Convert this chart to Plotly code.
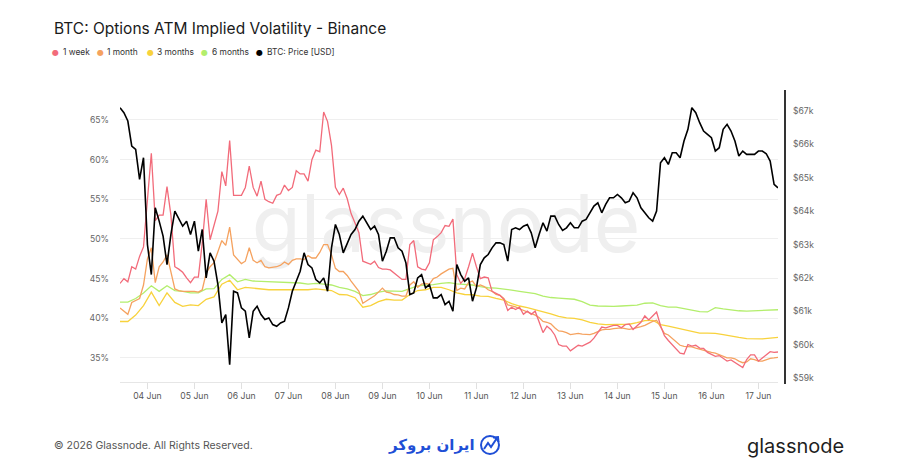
import pandas as pd
import plotly.graph_objects as go

# ---------------- data ----------------
start = "2024-06-03 10:00"
times_2h = pd.date_range(start, periods=169, freq="2h")
times_4h = pd.date_range(start, periods=85, freq="4h")

btc_price_k = [
    67.1, 66.95, 66.7, 65.95, 65.85, 64.95, 65.6,
    63.0, 62.1, 64.1, 63.7, 63.25, 62.4, 63.3, 64.0, 63.75, 63.55, 63.7, 63.3,
    63.7, 62.8, 63.45, 62.0, 62.75, 62.5, 61.8, 60.65, 60.9, 59.4, 61.6, 61.55,
    61.1, 61.0, 60.2, 61.0, 61.15, 60.9, 60.75, 60.8, 60.6, 60.55, 60.65, 60.7,
    61.1, 61.6, 61.9, 62.2, 62.75, 62.4, 62.3, 61.95, 61.85, 62.0, 61.6, 62.9,
    63.6, 63.3, 62.75, 63.0, 63.3, 63.45, 63.7, 63.85, 63.65, 63.45, 63.55, 63.3,
    62.5, 62.8, 63.2, 63.2, 62.9, 62.8, 62.45, 61.5, 61.55, 62.0, 62.1, 61.7,
    61.8, 61.4, 61.4, 61.5, 61.2, 61.3, 61.0, 62.4, 62.1, 61.9, 62.0, 61.3,
    61.7, 62.4, 62.6, 62.7, 62.9, 63.05, 63.05, 63.0, 62.5, 63.45, 63.5, 63.45,
    63.55, 63.6, 63.35, 62.9, 63.3, 63.65, 63.4, 63.85, 63.85, 63.6, 63.42, 63.5,
    63.65, 63.5, 63.5, 63.7, 63.75, 63.95, 64.15, 64.25, 63.95, 64.2, 64.4, 64.4,
    64.5, 64.4, 64.25, 64.3, 64.55, 64.4, 64.1, 63.95, 63.8, 63.7, 64.0, 65.45,
    65.6, 65.4, 65.75, 65.75, 65.6, 66.1, 66.45, 67.1, 66.95, 66.65, 66.4, 66.3,
    66.2, 65.8, 65.9, 66.45, 66.6, 66.4, 66.1, 65.65, 65.8, 65.7, 65.7, 65.7,
    65.8, 65.8, 65.72, 65.5, 64.8, 64.7,
]

iv_1_week = [
    44.4, 45.0, 44.6, 46.5, 46.2, 47.8, 49.0,
    54.5, 60.8, 52.3, 53.0, 53.0, 56.6, 53.0, 46.5, 46.2, 45.8, 45.1, 44.5,
    45.2, 45.2, 49.5, 55.0, 49.9, 51.6, 53.5, 58.5, 56.7, 62.4, 55.5, 55.5,
    55.5, 56.5, 59.2, 56.5, 55.4, 57.3, 55.0, 54.7, 54.5, 55.5, 55.7, 56.8,
    56.1, 56.5, 58.6, 58.2, 58.2, 57.3, 60.0, 61.2, 61.0, 66.0, 64.8, 61.8,
    56.5, 55.6, 56.4, 55.1, 53.2, 52.0, 50.8, 47.2, 47.0, 46.8, 47.2, 46.4,
    46.2, 46.2, 46.1, 45.7, 45.2, 44.9, 44.9, 49.3, 49.8, 46.5, 46.2, 46.1,
    47.0, 49.9, 50.3, 50.8, 51.7, 51.6, 52.5, 45.5, 44.4, 45.0, 46.5, 48.2,
    46.5, 45.0, 45.2, 45.1, 43.4, 43.2, 42.9, 42.4, 41.0, 41.4, 41.1, 41.4,
    40.5, 40.9, 40.5, 40.9, 39.6, 38.2, 39.0, 38.6, 37.9, 36.7, 36.5, 36.5,
    35.9, 36.3, 36.6, 36.5, 36.7, 37.0, 37.5, 38.2, 38.9, 38.8, 39.0, 39.1,
    39.1, 38.8, 39.2, 39.3, 38.6, 39.0, 39.5, 40.3, 39.8, 40.3, 40.8, 39.1,
    37.8, 37.2, 36.7, 36.1, 35.6, 35.5, 36.7, 36.5, 36.6, 36.25, 36.2, 35.7,
    35.4, 35.2, 35.3, 34.9, 34.6, 34.75, 34.4, 34.15, 33.8, 34.8, 35.4, 35.4,
    34.6, 35.0, 35.35, 35.8, 35.7, 35.75,
]

iv_1_month = [
    41.3, 40.9, 40.5, 42.0, 42.3, 42.5, 44.2,
    47.5, 48.9, 44.5, 46.5, 47.1, 48.0, 45.9, 43.7, 43.5, 43.4, 43.4, 43.4,
    43.4, 43.3, 43.6, 45.7, 46.5, 47.0, 48.3, 49.8, 49.2, 51.5, 48.0, 47.5,
    46.9, 47.2, 48.9, 47.3, 47.0, 47.3, 46.5, 46.35, 46.4, 46.5, 46.7, 47.1,
    46.8, 47.3, 47.5, 47.5, 47.4, 47.9, 47.6, 47.6, 48.3, 49.3, 49.3, 48.0,
    46.3, 45.9, 45.9, 45.4, 44.7, 44.1, 43.4, 41.9, 42.2, 42.6, 42.85, 43.3,
    43.8, 43.3, 43.2, 43.0, 42.95, 42.8, 42.8, 44.2, 44.6, 43.9, 44.3, 44.4,
    44.3, 45.0, 45.2, 45.6, 45.9, 46.2, 46.3, 43.5, 43.8, 43.7, 44.5, 44.7,
    44.0, 44.2, 44.0, 43.6, 43.4, 43.0, 42.9, 42.5, 41.7, 41.6, 41.45, 41.2,
    41.0, 40.9, 40.7, 40.4, 40.1, 39.6, 39.5, 39.3, 38.8, 38.4, 38.35, 38.2,
    37.95, 38.0, 38.1, 38.0, 37.95, 37.95, 38.1, 38.35, 38.55, 38.6, 38.6, 38.7,
    38.77, 38.8, 38.7, 38.6, 38.7, 38.8, 38.95, 39.1, 39.4, 39.6, 39.75, 38.9,
    38.1, 37.9, 37.5, 37.0, 36.6, 36.46, 36.46, 36.4, 36.25, 36.1, 36.0, 35.85,
    35.7, 35.6, 35.4, 35.2, 35.0, 35.0, 34.9, 34.6, 34.4, 34.5, 34.9, 34.8,
    34.6, 34.6, 34.75, 34.95, 35.0, 35.07,
]

iv_3_months = [
    39.6, 39.6, 40.4, 41.6, 43.3, 41.6, 43.2, 42.0, 41.5, 41.7,
    41.6, 42.4, 42.7, 44.3, 44.8, 43.6, 43.9, 43.8, 43.7, 43.6,
    43.6, 43.6, 43.6, 43.6, 43.6, 43.7, 43.6, 43.5, 43.0, 42.95,
    42.6, 41.4, 41.6, 42.1, 42.4, 42.3, 42.3, 43.0, 43.5, 43.6,
    43.9, 43.9, 43.6, 43.2, 43.0, 42.97, 42.8, 42.76, 42.5, 42.3,
    41.85, 41.55, 41.35, 41.1, 40.85, 40.55, 40.25, 40.05, 40.0, 39.8,
    39.5, 39.3, 39.2, 39.2, 39.2, 39.25, 39.45, 39.7, 39.75, 39.2,
    39.0, 38.8, 38.56, 38.35, 38.14, 38.14, 38.1, 37.95, 37.75, 37.6,
    37.45, 37.4, 37.4, 37.5, 37.6,
]

iv_6_months = [
    42.05, 42.05, 42.5, 43.2, 44.1, 43.4, 44.1, 43.5, 43.4, 43.2,
    43.2, 43.7, 43.75, 44.9, 45.5, 44.6, 44.9, 44.7, 44.65, 44.6,
    44.6, 44.55, 44.5, 44.45, 44.3, 44.4, 44.3, 44.2, 43.9, 43.7,
    43.4, 42.85, 43.0, 43.3, 43.45, 43.4, 43.4, 43.75, 44.1, 44.2,
    44.25, 44.4, 44.5, 44.35, 44.25, 44.2, 44.0, 43.85, 43.8, 43.7,
    43.55, 43.4, 43.25, 43.1, 42.8, 42.62, 42.55, 42.5, 42.4, 42.1,
    41.65, 41.55, 41.5, 41.5, 41.55, 41.6, 41.65, 41.9, 41.95, 41.6,
    41.4, 41.4, 41.2, 41.0, 40.85, 40.8, 41.35, 41.2, 41.05, 40.95,
    40.9, 40.95, 41.0, 41.05, 41.08,
]

assert len(btc_price_k) == 169 and len(iv_1_week) == 169 and len(iv_1_month) == 169
assert len(iv_3_months) == 85 and len(iv_6_months) == 85

series_names = ["1 week", "1 month", "3 months", "6 months", "BTC: Price [USD]"]
series_colors = ["#f26b7a", "#f5a25f", "#f8d23c", "#b3ee6c", "#000000"]
pct_ticks = [35, 40, 45, 50, 55, 60, 65]
pct_labels = [f"{v}%" for v in pct_ticks]
price_ticks = [59, 60, 61, 62, 63, 64, 65, 66, 67]
price_labels = [f"${v}k" for v in price_ticks]

# ---------------- layout helpers (pixel -> paper) ----------------
L, R, T, B = 120, 778, 100, 382
def px(x):
    return (x - L) / (R - L)
def py(y):
    return (B - y) / (B - T)

FONT = "Inter"
fig = go.Figure()

# watermark drawn first, underneath the lines
fig.add_trace(go.Scatter(
    x=[pd.Timestamp("2024-06-10 08:30")], y=[50.9], mode="text", text=["glassnode"],
    textfont=dict(family=FONT, size=80, color="#efefef"),
    hoverinfo="skip", showlegend=False))

iv_series = [(times_2h, iv_1_week), (times_2h, iv_1_month),
             (times_4h, iv_3_months), (times_4h, iv_6_months)]
for k in [3, 2, 1, 0]:
    t, v = iv_series[k]
    fig.add_trace(go.Scatter(x=t, y=v, mode="lines", name=series_names[k],
                             line=dict(color=series_colors[k], width=1.3),
                             showlegend=False))

fig.add_trace(go.Scatter(x=times_2h, y=btc_price_k, mode="lines", name=series_names[4],
                         line=dict(color="#000000", width=1.6), yaxis="y2",
                         showlegend=False))

annotations = []
# title
annotations.append(dict(x=px(52), y=py(28), xref="paper", yref="paper", xanchor="left",
                        yanchor="middle", showarrow=False,
                        text="BTC: Options ATM Implied Volatility - Binance",
                        font=dict(family=FONT, size=15.5, color="#1a1a1a")))
# legend
leg_dot_x = [55.5, 100, 150, 204.5, 259.5]
for name, col, dx in zip(series_names, series_colors, leg_dot_x):
    annotations.append(dict(x=px(dx), y=py(52.5), xref="paper", yref="paper", xanchor="center",
                            yanchor="middle", showarrow=False, text="●",
                            font=dict(family="DejaVu Sans", size=8, color=col)))
    annotations.append(dict(x=px(dx + 5), y=py(52.5), xref="paper", yref="paper",
                            xanchor="left", yanchor="middle", showarrow=False, text=name,
                            font=dict(family=FONT, size=8.4, color="#333333")))
# footer
annotations.append(dict(x=px(52), y=py(446), xref="paper", yref="paper", xanchor="left",
                        yanchor="middle", showarrow=False,
                        text="© 2026 Glassnode. All Rights Reserved.",
                        font=dict(family=FONT, size=10.5, color="#555555")))
annotations.append(dict(x=px(846), y=py(446), xref="paper", yref="paper", xanchor="right",
                        yanchor="middle", showarrow=False, text="glassnode",
                        font=dict(family=FONT, size=20, color="#1f1f1f")))
annotations.append(dict(x=px(477), y=py(445), xref="paper", yref="paper", xanchor="right",
                        yanchor="middle", showarrow=False, text="<b>ایران بروکر</b>",
                        font=dict(family="DejaVu Sans", size=15, color="#1f4fd6")))

shapes = [
    # right price axis line
    dict(type="line", xref="paper", yref="paper", x0=px(785), x1=px(785),
         y0=py(384), y1=py(90), line=dict(color="#000000", width=1.6)),
    # logo icon: ring and arrow
    dict(type="circle", xref="paper", yref="paper", x0=px(481), x1=px(499),
         y0=py(454), y1=py(436), line=dict(color="#1f4fd6", width=2)),
    dict(type="path", xref="paper", yref="paper",
         path=f"M {px(484)},{py(449)} L {px(488)},{py(443)} L {px(491)},{py(447)} L {px(497)},{py(438)}",
         line=dict(color="#1f4fd6", width=2)),
    dict(type="path", xref="paper", yref="paper",
         path=f"M {px(493)},{py(437.5)} L {px(498)},{py(437)} L {px(498.5)},{py(442)}",
         line=dict(color="#1f4fd6", width=2)),
]

fig.update_layout(
    width=900, height=471,
    margin=dict(l=L, r=900 - R, t=T, b=471 - B),
    paper_bgcolor="#ffffff", plot_bgcolor="#ffffff",
    font=dict(family=FONT, size=9, color="#666666"),
    showlegend=False,
    annotations=annotations,
    shapes=shapes,
    xaxis=dict(
        type="date", range=["2024-06-03 10:00", "2024-06-17 10:00"],
        dtick=86400000, tick0="2024-06-04", tickformat="%d %b",
        showgrid=False, showline=True, linecolor="#e6e6e6", linewidth=1,
        ticks="outside", ticklen=6, tickcolor="#e0e0e0",
        tickfont=dict(family=FONT, size=8.6, color="#555555"), zeroline=False,
    ),
    yaxis=dict(
        range=[31.97, 67.52], tickmode="array", tickvals=pct_ticks, ticktext=pct_labels,
        showgrid=True, gridcolor="#efefef", gridwidth=1, zeroline=False,
        showline=False, ticks="", ticklabelstandoff=10,
        tickfont=dict(family=FONT, size=8.6, color="#666666"),
    ),
    yaxis2=dict(
        overlaying="y", side="right", range=[58.88, 67.33], tickmode="array",
        tickvals=price_ticks, ticktext=price_labels,
        showgrid=False, zeroline=False, showline=False,
        ticks="", ticklabelstandoff=14,
        tickfont=dict(family=FONT, size=8.6, color="#666666"),
    ),
)

fig.write_html("out.html")
